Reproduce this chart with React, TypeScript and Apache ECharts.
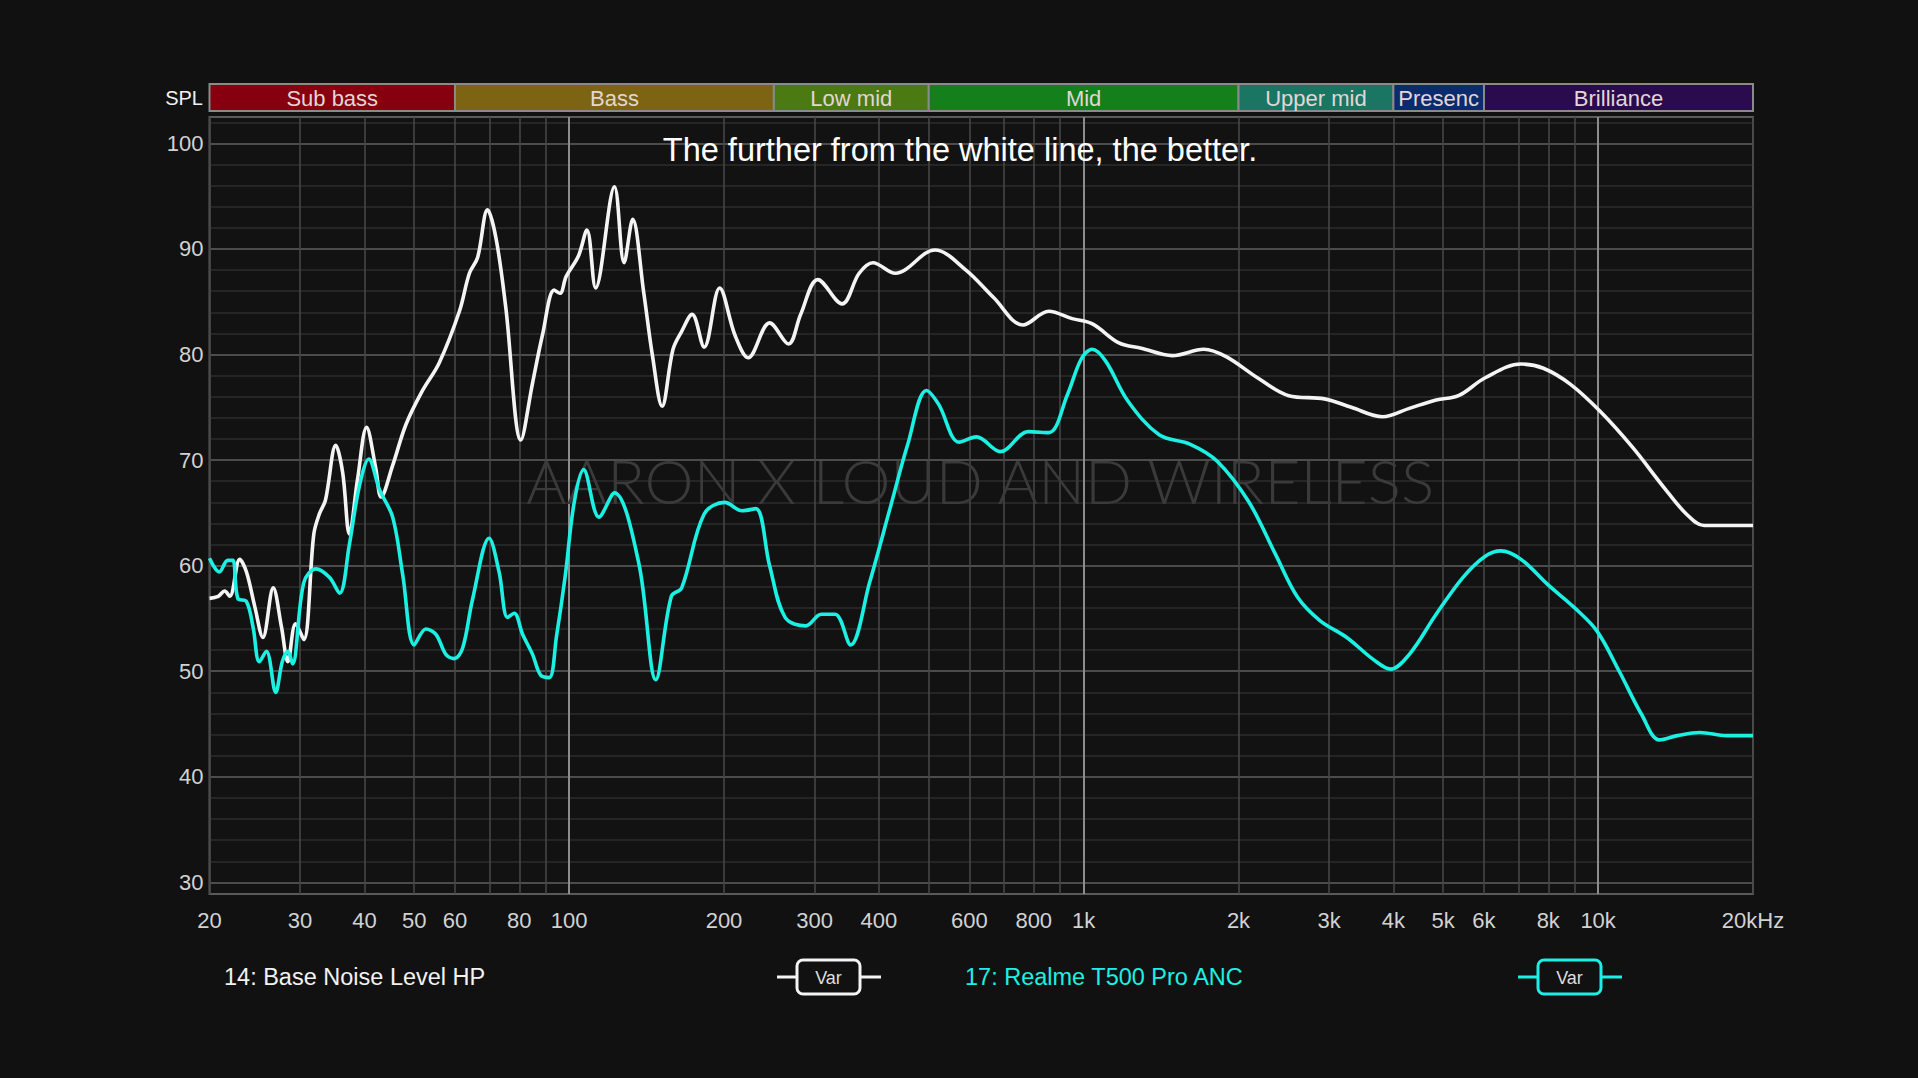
import React, { useEffect, useRef } from 'react';
import * as echarts from 'echarts';

// ---------- data ----------
const SERIES_NAMES = ['14: Base Noise Level HP', '17: Realme T500 Pro ANC'];
const SERIES_COLORS = ['#f4f4f4', '#1cf0e3'];

const BASE_FREQ = [
  20, 20.8, 21.4, 21.9, 22.9, 23.6, 24.5, 25.4, 26.6, 27.6, 28.4, 29.4, 30.5, 31.9, 32.7, 33.6,
  35.2, 36.3, 37.4, 38.8, 40.4, 42.1, 43.1, 45.4, 48.2, 51.9, 55.9, 61.2, 64.0, 66.4, 69.4, 72.1,
  75.3, 80.6, 84.9, 88.8, 93.5, 96, 98.7, 104.2, 108.3, 112.6, 122.5, 127.9, 132.9, 139.7, 145.2,
  151.6, 159.2, 165.5, 173.4, 183, 196.1, 210.2, 222.9, 245.3, 267, 281.8, 304.4, 339.2, 366.2,
  389.5, 430.6, 514, 590.6, 668.3, 762.1, 855.5, 950, 1040, 1171, 1294, 1488, 1712, 1892, 2177,
  2504, 2939, 3313, 3811, 4296, 4844, 5353, 6034, 7082, 7826, 8825, 10100, 11670, 13430, 14840,
  16070, 20000,
];
const BASE_SPL = [
  56.9, 57.1, 57.6, 57.1, 60.6, 59.4, 56.1, 53.2, 57.9, 54.2, 50.9, 54.5, 53.0, 63.0, 64.9, 66.2,
  71.4, 68.8, 63.0, 68.2, 73.1, 69.2, 66.5, 69.5, 73.4, 76.6, 79.2, 84.1, 87.7, 89.2, 93.7, 91.0,
  84.5, 71.9, 77.3, 81.9, 86.1, 85.8, 87.4, 89.3, 91.8, 86.3, 95.9, 88.7, 92.8, 85.8, 79.9,
  75.1, 80.5, 82.2, 83.8, 80.7, 86.3, 81.8, 79.7, 83.0, 81.0, 83.8, 87.1, 84.8, 87.7,
  88.7, 87.7, 89.9, 88.0, 85.4, 82.8, 84.1, 83.4, 82.9, 81.1, 80.6, 79.9, 80.5, 79.8, 77.8,
  76.1, 75.8, 75.0, 74.1, 74.9, 75.7, 76.1, 77.8, 79.1, 78.7, 77.2, 74.6, 71.2, 67.4, 64.9,
  63.8, 63.8,
];

const ANC_FREQ = [
  20, 20.9, 21.7, 22.2, 22.7, 23.6, 24.3, 25.0, 25.8, 26.9, 27.7, 28.4, 29.0, 30.5, 32.2, 34.2,
  35.8, 37.4, 39.1, 40.8, 42.8, 45.4, 47.5, 50.0, 52.7, 55.1, 57.6, 59.8, 62.1, 64.9, 69.9, 73.1,
  75.9, 78.2, 81.2, 84.9, 88.1, 91.5, 94.5, 98.2, 102.3, 106.7, 114.3, 122.5, 136.5, 147.4, 158.0,
  165.5, 183.0, 200.7, 216.8, 230.6, 245.3, 262.9, 288.3, 309.1, 328.8, 352.4, 383.7, 420.9,
  454.6, 494.9, 522.4, 573.1, 618.9, 689.3, 779.9, 855.5, 930, 990, 1039, 1103, 1219, 1402, 1612,
  1818, 2091, 2359, 2606, 2879, 3247, 3660, 3950, 4296, 4844, 5463, 6034, 6473, 7082, 7985, 9004,
  9951, 10990, 12150, 13160, 14260, 15760, 17770, 20000,
];
const ANC_SPL = [
  60.7, 59.4, 60.5, 60.5, 56.9, 56.6, 54.2, 50.9, 51.9, 48.0, 50.9, 51.9, 50.7, 58.4, 59.7, 58.9,
  57.4, 62.0, 67.5, 70.1, 67.2, 64.6, 59.1, 52.5, 54.0, 53.5, 51.6, 51.2, 52.2, 56.8, 62.6, 59.4,
  55.1, 55.5, 53.5, 51.6, 49.6, 49.4, 53.3, 58.9, 66.0, 69.1, 64.6, 66.9, 60.3, 49.2, 57.1,
  57.9, 64.9, 66.0, 65.2, 65.4, 60.0, 55.1, 54.3, 55.4, 55.4, 52.5, 58.4, 65.5,
  71.4, 76.6, 75.3, 71.7, 72.2, 70.8, 72.7, 72.6, 76.2, 79.6, 80.5, 79.4, 75.6, 72.4, 71.5,
  69.9, 66.1, 61.1, 57.0, 54.8, 53.2, 51.1, 50.2, 51.6, 55.4, 58.9, 60.9, 61.4, 60.6, 58.2, 56.0,
  53.8, 50.0, 45.9, 43.5, 43.9, 44.2, 43.9, 43.9,
];

// axis ticks
const X_MIN_FREQ = 20;
const X_MAX_FREQ = 20000;
const X_GRID_FREQS = [
  20, 30, 40, 50, 60, 70, 80, 90, 200, 300, 400, 500, 600, 700, 800, 900,
  2000, 3000, 4000, 5000, 6000, 7000, 8000, 9000, 20000,
];
const X_MAJOR_FREQS = [100, 1000, 10000];
const X_LABEL_FREQS = [20, 30, 40, 50, 60, 80, 100, 200, 300, 400, 600, 800, 1000, 2000, 3000, 4000, 5000, 6000, 8000, 10000, 20000];
const X_LABEL_TEXTS = ['20', '30', '40', '50', '60', '80', '100', '200', '300', '400', '600', '800', '1k', '2k', '3k', '4k', '5k', '6k', '8k', '10k', '20kHz'];

const Y_MIN = 28.9;
const Y_MAX = 102.5;
const Y_MINOR_TICKS = [32, 34, 36, 38, 42, 44, 46, 48, 52, 54, 56, 58, 62, 64, 66, 68, 72, 74, 76, 78, 82, 84, 86, 88, 92, 94, 96, 98, 102];
const Y_MAJOR_TICKS = [30, 40, 50, 60, 70, 80, 90, 100];
const Y_LABELS = [30, 40, 50, 60, 70, 80, 90, 100];

// frequency bands
const BAND_NAMES = ['Sub bass', 'Bass', 'Low mid', 'Mid', 'Upper mid', 'Presenc', 'Brilliance'];
const BAND_EDGES = [20, 60, 250, 500, 2000, 4000, 6000, 20000];
const BAND_COLORS = ['#86000f', '#7c6412', '#4c7a12', '#13801c', '#1a7662', '#0b2b6c', '#2a0b4e'];

const TITLE = 'The further from the white line, the better.';
const WATERMARK = 'AARON X LOUD AND WIRELESS';

// ---------- layout ----------
const FONT = "'Liberation Sans', Arial, sans-serif";
const G_LEFT = 209.5;
const G_RIGHT = 165;
const G_TOP = 117;
const G_HEIGHT = 777;

const lg = (f: number) => Math.log10(f);

function varWidget(x0: number, cy: number, color: string) {
  return {
    type: 'group',
    z: 5,
    children: [
      { type: 'line', shape: { x1: x0, y1: cy, x2: x0 + 104, y2: cy }, style: { stroke: color, lineWidth: 3 } },
      {
        type: 'rect',
        shape: { x: x0 + 20, y: cy - 17, width: 63, height: 34, r: 6 },
        style: { fill: '#111111', stroke: color, lineWidth: 3 },
      },
      {
        type: 'text',
        x: x0 + 51.5,
        y: cy + 1,
        style: { text: 'Var', fill: '#dedede', font: `18px ${FONT}`, align: 'center', verticalAlign: 'middle' },
      },
    ],
  };
}

export default function App() {
  const ref = useRef<HTMLDivElement>(null);

  useEffect(() => {
    document.body.style.margin = '0';
    document.body.style.overflow = 'hidden';
    document.body.style.background = '#111111';
    if (!ref.current) return;
    const chart = echarts.init(ref.current, undefined, { renderer: 'svg' });

    const labelText = (v: number) => {
      const f = Math.pow(10, v);
      const idx = X_LABEL_FREQS.findIndex((q) => Math.abs(q - f) / q < 1e-6);
      return idx >= 0 ? X_LABEL_TEXTS[idx] : '';
    };

    const bandData = BAND_NAMES.map((_, i) => [lg(BAND_EDGES[i]), lg(BAND_EDGES[i + 1]), i]);

    const option: any = {
      animation: false,
      backgroundColor: '#111111',
      grid: [
        {
          left: G_LEFT,
          right: G_RIGHT,
          top: G_TOP,
          height: G_HEIGHT,
          show: true,
          backgroundColor: '#121212',
          borderColor: '#5a5a5a',
          borderWidth: 2,
        },
        { left: G_LEFT, right: G_RIGHT, top: 84, height: 27 },
      ],
      xAxis: [
        {
          type: 'value',
          gridIndex: 0,
          min: lg(X_MIN_FREQ),
          max: lg(X_MAX_FREQ),
          axisLine: { show: false },
          axisTick: { show: false, customValues: X_GRID_FREQS.map(lg) },
          splitLine: { show: true, lineStyle: { color: '#464646', width: 1.6 } },
          axisLabel: {
            show: true,
            customValues: X_LABEL_FREQS.map(lg),
            formatter: labelText,
            color: '#d2d2d2',
            fontFamily: FONT,
            fontSize: 22,
            margin: 15,
          },
        },
        {
          type: 'value',
          gridIndex: 0,
          position: 'top',
          min: lg(X_MIN_FREQ),
          max: lg(X_MAX_FREQ),
          axisLine: { show: false },
          axisTick: { show: false, customValues: X_MAJOR_FREQS.map(lg) },
          splitLine: { show: true, lineStyle: { color: '#8c8c8c', width: 2 } },
          axisLabel: { show: false },
        },
        {
          type: 'value',
          gridIndex: 1,
          min: lg(X_MIN_FREQ),
          max: lg(X_MAX_FREQ),
          show: false,
        },
      ],
      yAxis: [
        {
          type: 'value',
          gridIndex: 0,
          min: Y_MIN,
          max: Y_MAX,
          axisLine: { show: false },
          axisTick: { show: false, customValues: Y_MINOR_TICKS },
          splitLine: { show: true, lineStyle: { color: '#2c2c2c', width: 1.6 } },
          axisLabel: {
            show: true,
            customValues: Y_LABELS,
            color: '#d2d2d2',
            fontFamily: FONT,
            fontSize: 22,
            margin: 6,
          },
        },
        {
          type: 'value',
          gridIndex: 0,
          position: 'right',
          min: Y_MIN,
          max: Y_MAX,
          axisLine: { show: false },
          axisTick: { show: false, customValues: Y_MAJOR_TICKS },
          splitLine: { show: true, lineStyle: { color: '#4c4c4c', width: 2 } },
          axisLabel: { show: false },
        },
        { type: 'value', gridIndex: 1, min: 0, max: 1, show: false },
      ],
      series: [
        {
          type: 'custom',
          name: 'bands',
          xAxisIndex: 2,
          yAxisIndex: 2,
          data: bandData,
          renderItem: (params: any, api: any) => {
            const s = api.coord([api.value(0), 0]);
            const e = api.coord([api.value(1), 1]);
            const i = api.value(2);
            return {
              type: 'group',
              children: [
                {
                  type: 'rect',
                  shape: { x: s[0], y: e[1], width: e[0] - s[0], height: s[1] - e[1] },
                  style: { fill: BAND_COLORS[i], stroke: '#8a8a8a', lineWidth: 2 },
                },
                {
                  type: 'text',
                  x: (s[0] + e[0]) / 2,
                  y: (s[1] + e[1]) / 2 + 1,
                  style: {
                    text: BAND_NAMES[i],
                    fill: '#e2d6d6',
                    font: `22px ${FONT}`,
                    align: 'center',
                    verticalAlign: 'middle',
                  },
                },
              ],
            };
          },
        },
        {
          type: 'line',
          name: SERIES_NAMES[0],
          xAxisIndex: 0,
          yAxisIndex: 0,
          data: BASE_FREQ.map((f, i) => [lg(f), BASE_SPL[i]]),
          showSymbol: false,
          smooth: 0.35,
          z: 3,
          lineStyle: { color: SERIES_COLORS[0], width: 3.6 },
        },
        {
          type: 'line',
          name: SERIES_NAMES[1],
          xAxisIndex: 0,
          yAxisIndex: 0,
          data: ANC_FREQ.map((f, i) => [lg(f), ANC_SPL[i]]),
          showSymbol: false,
          smooth: 0.35,
          z: 4,
          lineStyle: { color: SERIES_COLORS[1], width: 3.6 },
        },
      ],
      graphic: [
        {
          type: 'text',
          x: 203,
          y: 98,
          z: 5,
          style: { text: 'SPL', fill: '#f0f0f0', font: `20px ${FONT}`, align: 'right', verticalAlign: 'middle' },
        },
        {
          type: 'text',
          x: 960,
          y: 150,
          z: 5,
          style: { text: TITLE, fill: '#ffffff', font: `32.5px ${FONT}`, align: 'center', verticalAlign: 'middle' },
        },
        {
          type: 'text',
          x: 980,
          y: 480,
          z: 1,
          style: {
            text: WATERMARK,
            fill: '#3a3a3a',
            font: `300 62px Lato, ${FONT}`,
            align: 'center',
            verticalAlign: 'middle',
          },
        },
        {
          type: 'text',
          x: 224,
          y: 977,
          z: 5,
          style: { text: SERIES_NAMES[0], fill: '#f2f2f2', font: `23.5px ${FONT}`, align: 'left', verticalAlign: 'middle' },
        },
        varWidget(777, 977, SERIES_COLORS[0]),
        {
          type: 'text',
          x: 965,
          y: 977,
          z: 5,
          style: { text: SERIES_NAMES[1], fill: SERIES_COLORS[1], font: `23.5px ${FONT}`, align: 'left', verticalAlign: 'middle' },
        },
        varWidget(1518, 977, SERIES_COLORS[1]),
      ],
    };

    chart.setOption(option);
    return () => {
      chart.dispose();
    };
  }, []);

  return <div ref={ref} style={{ width: 1918, height: 1078, background: '#111111' }} />;
}
